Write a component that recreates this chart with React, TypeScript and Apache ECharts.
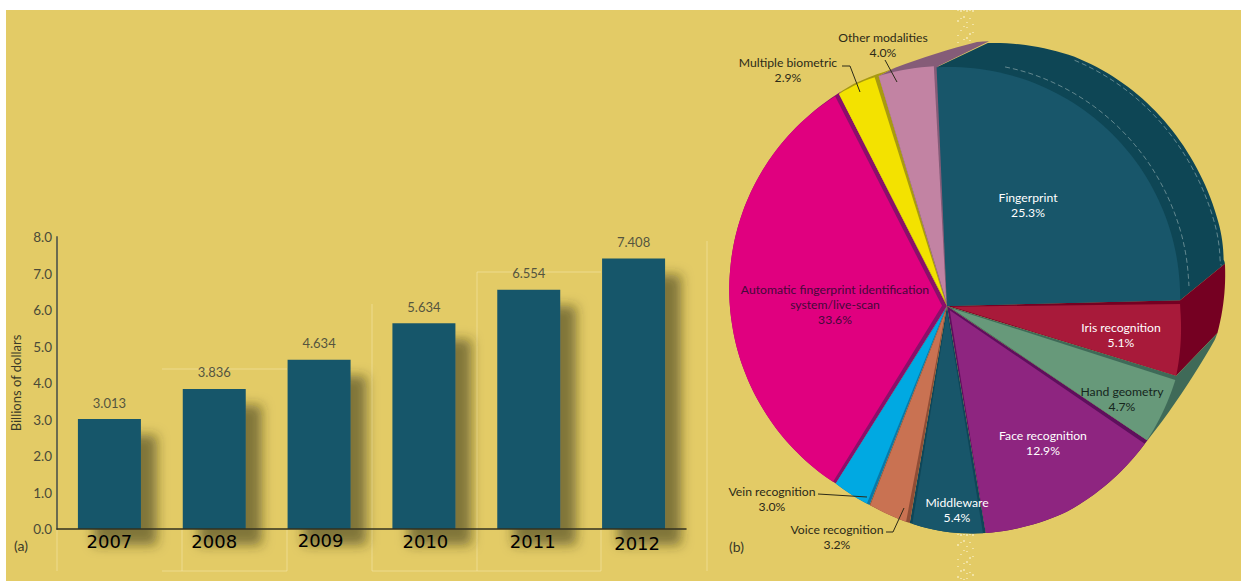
import React, { useEffect, useRef } from "react";
import * as echarts from "echarts";

// Market revenue by year
const years = ["2007", "2008", "2009", "2010", "2011", "2012"];
const revenue = [3.013, 3.836, 4.634, 5.634, 6.554, 7.408];
const revenueTicks = ["0.0", "1.0", "2.0", "3.0", "4.0", "5.0", "6.0", "7.0", "8.0"];

// Market share by technology, clockwise from the fingerprint slice
const technologies = [
  "Fingerprint",
  "Iris recognition",
  "Hand geometry",
  "Face recognition",
  "Middleware",
  "Voice recognition",
  "Vein recognition",
  "Automatic fingerprint identification\nsystem/live-scan",
  "Multiple biometric",
  "Other modalities",
];
const shares = [25.3, 5.1, 4.7, 12.9, 5.4, 3.2, 3.0, 33.6, 2.9, 4.0];

const faceColors = ["#18566a", "#a81a3a", "#67997a", "#8e2580", "#18566a", "#c97252", "#00a9e2", "#e0007f", "#f3e200", "#c283a3"];
const sideColors = ["#0e4655", "#750022", "#3f6a58", "#5e0f5c", "#0f4658", "#8f4d36", "#0a78a8", "#8a0f6a", "#a89a10", "#855c78"];
// Inset of each face from its start and end edge, in degrees, which exposes the side colour
const faceInsets = [[0, 0], [0.9, 0], [1, 0], [1, 0], [0.7, 0.7], [1, 0.2], [0.8, 0], [0.9, 1.1], [0, 1], [0, 1]];
const labelInk = ["#ffffff", "#ffffff", "#16261c", "#ffffff", "#ffffff", "#2c2a18", "#2c2a18", "#45093a", "#2c2a18", "#2c2a18"];
const labelSpots = [[1028, 198], [1121, 328], [1122, 392], [1043, 436], [957, 503], [837, 530], [772, 492], [835, 290], [788, 63], [883, 38]];

// Small nudges of the year captions: [left, top] padding
const yearNudges = [[0, 1], [0, 1], [3, 0], [3, 1], [8, 1], [7, 3]];

const leaderLines = [
  [[842, 66], [850, 66], [860, 92]],
  [[885, 60], [897, 82]],
  [[818, 494], [867, 497]],
  [[886, 532], [893, 532], [904, 508]],
];

// The pie is tilted: the apex sits off-centre, so its rim is given as radius by screen angle
const APEX = [947, 306];
const START_ANGLE = -92.5;
const rimRadius = [
  [-100, 239], [-90, 239], [-72, 239.5], [-54, 239], [-36, 237.7], [-18, 235.6], [0, 233], [18, 240], [35, 241], [60, 238], [81, 230],
  [90, 226], [100, 220], [110, 214], [122, 209.5], [136, 209.5], [150, 210.7], [162, 212.7], [175, 215.7], [190, 220], [205, 225],
  [220, 230.3], [235, 235.6], [250, 240], [265, 240], [275, 240],
];
// How far the rim is lifted towards the back edge of the solid, by screen angle
const rimLift = [
  [-100, 51, -25], [-72, 52, -22], [-54, 49, -19], [-36, 47, -16], [-18, 47, -12], [-6, 44, -22], [0, 45, -41], [18, 41, -43], [35, 0, 0],
  [232, 0, 0], [246, 4, -4], [252, 12, -6], [265, 51, -25], [275, 51, -25],
];

const lookup = (table: number[][], angle: number, col: number) => {
  for (let i = 1; i < table.length; i++) {
    if (angle <= table[i][0]) {
      const t = (angle - table[i - 1][0]) / (table[i][0] - table[i - 1][0]);
      return table[i - 1][col] + (table[i][col] - table[i - 1][col]) * t;
    }
  }
  return table[table.length - 1][col];
};

const rimPoint = (angle: number) => {
  const r = lookup(rimRadius, angle, 1);
  const a = (angle * Math.PI) / 180;
  return [APEX[0] + r * Math.cos(a), APEX[1] + r * Math.sin(a)];
};

const liftedPoint = (angle: number, amount = 1) => {
  const p = rimPoint(angle);
  return [p[0] + lookup(rimLift, angle, 1) * amount, p[1] + lookup(rimLift, angle, 2) * amount];
};

const sweep = (from: number, to: number, fn: (angle: number) => number[]) => {
  const steps = Math.max(2, Math.ceil((to - from) / 1.5));
  const pts: number[][] = [];
  for (let i = 0; i <= steps; i++) pts.push(fn(from + ((to - from) * i) / steps));
  return pts;
};

const sliceRange = (index: number) => {
  let before = 0;
  for (let i = 0; i < index; i++) before += shares[i];
  return [START_ANGLE + before * 3.6, START_ANGLE + (before + shares[index]) * 3.6];
};

const renderSide = (params: any) => {
  const i = params.dataIndex;
  const [a, b] = sliceRange(i);
  const points = [APEX, rimPoint(a), ...sweep(a, b, liftedPoint), rimPoint(b)];
  return { type: "polygon", shape: { points }, style: { fill: sideColors[i] } };
};

const renderFace = (params: any) => {
  const i = params.dataIndex;
  const [a, b] = sliceRange(i);
  const from = a + faceInsets[i][0];
  const to = b - faceInsets[i][1];
  const mid = ((a + b) / 2) * (Math.PI / 180);
  const pull = faceInsets[i][0] + faceInsets[i][1] > 0 ? 5 : 0;
  const tip = [APEX[0] + pull * Math.cos(mid), APEX[1] + pull * Math.sin(mid)];
  const children: any[] = [
    { type: "polygon", shape: { points: [tip, ...sweep(from, to, rimPoint)] }, style: { fill: faceColors[i] } },
  ];
  if (i === 0) {
    // Fold marks on the solid behind the largest slice
    const fold = { stroke: "rgba(225,235,230,0.5)", lineWidth: 0.8, lineDash: [5, 3], fill: "none" };
    children.push(
      { type: "polyline", shape: { points: sweep(a + 14, b - 2, (t) => liftedPoint(t, 0.2)) }, style: fold },
      { type: "polyline", shape: { points: sweep(a + 22, b - 1, (t) => liftedPoint(t, 0.92)) }, style: fold },
    );
  }
  return { type: "group", children };
};

const textLines = (i: number) =>
  `${technologies[i]}\n${shares[i].toFixed(1)}%`;

const FONT = "Lato";

const paleRules = [
  [57, 400, 57, 571], [162, 571, 287, 571], [182, 530, 182, 571], [287, 530, 287, 571], [162, 369, 287, 369],
  [372, 304, 372, 571], [372, 571, 601, 571], [477, 272, 477, 571], [477, 272, 601, 272], [601, 530, 601, 571], [707, 241, 707, 571],
];

// Pale speckled seam that runs behind the pie, above and below it
const seamDashes = [
  [958, [1, 9, 2, 13, 1, 6]], [961, [2, 6, 1, 11, 1, 15]], [964, [1, 5, 2, 8, 1, 12]],
  [967, [2, 10, 1, 4, 1, 9]], [970, [1, 7, 1, 14, 2, 5]], [973, [2, 12, 1, 7, 1, 17]],
] as [number, number[]][];

export default function App() {
  const ref = useRef<HTMLDivElement>(null);
  useEffect(() => {
    document.body.style.margin = "0";
    const chart = echarts.init(ref.current!, null, { renderer: "svg" });
    const graphic: any[] = [
      { type: "rect", z: -10, shape: { x: 6, y: 10, width: 1235, height: 571 }, style: { fill: "#e3cb66" } },
      ...paleRules.map((r) => ({
        type: "line", z: -5, shape: { x1: r[0], y1: r[1], x2: r[2], y2: r[3] }, style: { stroke: "rgba(255,248,205,0.4)", lineWidth: 1 },
      })),
      ...seamDashes.flatMap(([x, dash]) =>
        [[10, 44], [534, 581]].map(([y1, y2]) => ({
          type: "line", z: -5, shape: { x1: x, y1, x2: x, y2 }, style: { stroke: "rgba(255,250,225,0.7)", lineWidth: 1.4, lineDash: dash },
        })),
      ),
      ...leaderLines.map((pts) => ({
        type: "polyline", z: 20, shape: { points: pts }, style: { stroke: "#2c2a18", lineWidth: 1, fill: "none" },
      })),
      ...technologies.map((_, i) => ({
        type: "text", z: 20, x: labelSpots[i][0], y: labelSpots[i][1] - 8,
        style: { text: textLines(i), fill: labelInk[i], font: `12.2px ${FONT}`, align: "center", verticalAlign: "top", lineHeight: 15 },
      })),
      { type: "text", z: 20, x: 14, y: 538, style: { text: "(a)", fill: "#3a3a28", font: `14px ${FONT}` } },
      { type: "text", z: 20, x: 729, y: 539, style: { text: "(b)", fill: "#3a3a28", font: `14px ${FONT}` } },
    ];
    chart.setOption({
      animation: false,
      backgroundColor: "#ffffff",
      graphic,
      grid: { left: 57, top: 237, width: 629, height: 292, containLabel: false },
      xAxis: {
        type: "category",
        data: years.map((y, i) => ({
          value: y,
          textStyle: { padding: [yearNudges[i][1], 0, 0, yearNudges[i][0]] },
        })),
        axisTick: { show: false },
        axisLine: { lineStyle: { color: "#33321f", width: 1.5 } },
        axisLabel: { color: "#000000", fontFamily: "DejaVu Sans", fontSize: 18, margin: 2 },
        z: 5,
      },
      yAxis: {
        type: "value",
        min: 0,
        max: 8,
        interval: 1,
        name: "Billions of dollars",
        nameLocation: "middle",
        nameGap: 30,
        nameTextStyle: { color: "#3a3a28", fontFamily: FONT, fontSize: 13 },
        axisLine: { show: true, lineStyle: { color: "#6b6b50", width: 2 } },
        axisTick: { show: false },
        splitLine: { show: false },
        axisLabel: {
          color: "#4a4a38",
          fontFamily: FONT,
          fontSize: 13.5,
          margin: 5,
          formatter: (v: number) => revenueTicks[v],
        },
      },
      series: [
        {
          type: "bar",
          data: revenue,
          barWidth: 63,
          itemStyle: {
            color: "#18566a",
            shadowColor: "rgba(50,48,25,0.55)",
            shadowBlur: 12,
            shadowOffsetX: 16,
            shadowOffsetY: 16,
          },
          label: {
            show: true,
            position: "top",
            distance: 10,
            color: "#55553f",
            fontFamily: FONT,
            fontSize: 13,
            formatter: (p: any) => p.value.toFixed(3),
          },
        },
        {
          type: "custom",
          coordinateSystem: "none",
          data: shares.map((v) => [v]),
          renderItem: renderSide,
          z: 3,
        },
        {
          type: "custom",
          coordinateSystem: "none",
          data: shares.map((v) => [v]),
          renderItem: renderFace,
          z: 4,
        },
      ],
    });
    return () => chart.dispose();
  }, []);
  return <div ref={ref} style={{ position: "absolute", left: 0, top: 0, width: 1241, height: 581 }} />;
}
